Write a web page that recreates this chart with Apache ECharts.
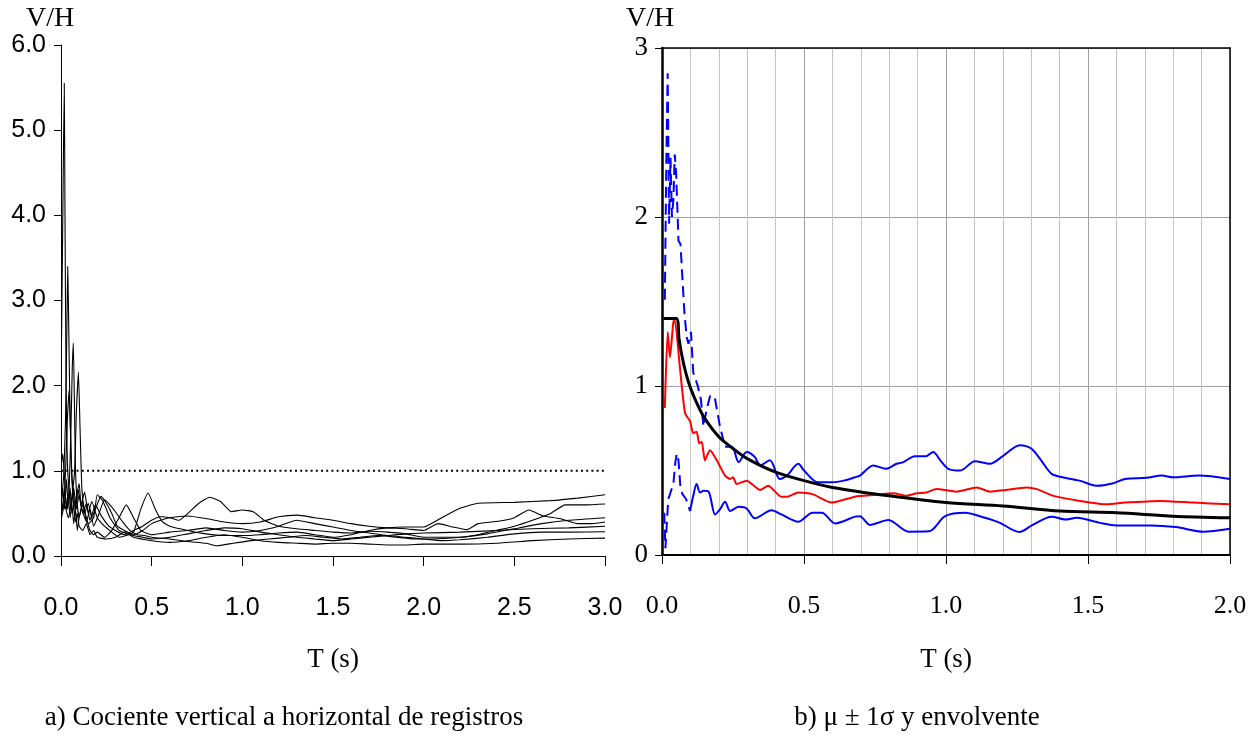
<!DOCTYPE html>
<html><head><meta charset="utf-8">
<script src="https://cdn.jsdelivr.net/npm/echarts@6/dist/echarts.min.js"></script>
<style>html,body{margin:0;padding:0;background:#fff}#c{width:1258px;height:735px}</style>
</head><body><div id="c"></div>
<script>
// ---------- Left panel: V/H ratio of each record, [T (s), V/H] ----------
const recA = [[0.003,2.55],[0.010,4.0],[0.018,5.55],[0.022,4.0],[0.028,2.0],[0.035,1.1],[0.045,0.75],[0.055,0.55],[0.07,0.8],[0.085,0.55],[0.1,0.72],[0.12,0.5],[0.14,0.62],[0.16,0.42],[0.19,0.6],[0.22,0.48],[0.26,0.36],[0.3,0.3],[0.35,0.25],[0.4,0.3],[0.45,0.35],[0.5,0.42],[0.55,0.46],[0.6,0.45],[0.65,0.42],[0.7,0.5],[0.76,0.62],[0.82,0.69],[0.88,0.64],[0.94,0.52],[1.0,0.54],[1.06,0.52],[1.12,0.42],[1.2,0.35],[1.3,0.32],[1.4,0.3],[1.5,0.28],[1.6,0.27],[1.7,0.29],[1.8,0.28],[1.9,0.26],[2.0,0.22],[2.1,0.22],[2.2,0.22],[2.3,0.25],[2.4,0.3],[2.5,0.35],[2.6,0.42],[2.7,0.5],[2.78,0.6],[2.9,0.6],[3.0,0.61]];
const recB = [[0.003,0.65],[0.015,0.95],[0.025,1.6],[0.032,2.6],[0.037,3.4],[0.042,2.8],[0.048,1.9],[0.055,1.2],[0.065,0.8],[0.08,0.55],[0.095,0.78],[0.11,0.6],[0.13,0.75],[0.15,0.5],[0.17,0.64],[0.2,0.45],[0.24,0.35],[0.28,0.28],[0.32,0.22],[0.36,0.24],[0.4,0.28],[0.44,0.55],[0.48,0.74],[0.52,0.55],[0.56,0.4],[0.6,0.35],[0.7,0.3],[0.8,0.26],[0.9,0.24],[1.0,0.24],[1.1,0.25],[1.2,0.27],[1.3,0.28],[1.4,0.25],[1.5,0.22],[1.6,0.25],[1.7,0.3],[1.8,0.33],[1.9,0.34],[2.0,0.34],[2.1,0.45],[2.2,0.56],[2.3,0.62],[2.5,0.63],[2.7,0.65],[2.85,0.68],[3.0,0.72]];
const recC = [[0.003,0.5],[0.02,0.75],[0.035,0.55],[0.045,0.8],[0.055,1.5],[0.062,2.2],[0.068,2.5],[0.074,1.8],[0.08,1.0],[0.09,0.6],[0.1,0.45],[0.12,0.65],[0.14,0.4],[0.16,0.55],[0.18,0.35],[0.21,0.5],[0.24,0.66],[0.27,0.6],[0.3,0.52],[0.34,0.4],[0.38,0.3],[0.42,0.25],[0.46,0.24],[0.5,0.22],[0.6,0.2],[0.7,0.17],[0.8,0.15],[0.86,0.12],[0.95,0.15],[1.05,0.18],[1.15,0.2],[1.25,0.22],[1.35,0.24],[1.45,0.22],[1.55,0.2],[1.65,0.22],[1.75,0.24],[1.85,0.22],[1.95,0.2],[2.05,0.2],[2.2,0.22],[2.35,0.26],[2.5,0.32],[2.65,0.38],[2.8,0.42],[3.0,0.45]];
const recD = [[0.003,0.45],[0.02,0.6],[0.04,0.45],[0.06,0.7],[0.075,1.0],[0.085,1.7],[0.096,2.16],[0.105,1.5],[0.115,0.8],[0.13,0.5],[0.15,0.62],[0.17,0.45],[0.19,0.55],[0.22,0.7],[0.25,0.62],[0.28,0.5],[0.31,0.35],[0.35,0.3],[0.4,0.25],[0.45,0.3],[0.5,0.38],[0.55,0.42],[0.6,0.45],[0.7,0.47],[0.8,0.44],[0.9,0.4],[1.0,0.38],[1.1,0.4],[1.2,0.46],[1.3,0.48],[1.4,0.45],[1.5,0.42],[1.6,0.38],[1.7,0.35],[1.8,0.33],[1.9,0.32],[2.0,0.3],[2.08,0.38],[2.16,0.34],[2.24,0.31],[2.3,0.38],[2.42,0.41],[2.5,0.45],[2.58,0.54],[2.66,0.47],[2.75,0.44],[2.85,0.38],[2.93,0.38],[3.0,0.40]];
const recE = [[0.003,1.09],[0.01,1.2],[0.02,0.9],[0.03,0.55],[0.04,0.7],[0.05,0.45],[0.06,0.62],[0.07,0.38],[0.08,0.55],[0.09,0.3],[0.1,0.45],[0.12,0.6],[0.14,0.45],[0.16,0.3],[0.18,0.25],[0.2,0.28],[0.24,0.22],[0.28,0.3],[0.32,0.45],[0.36,0.6],[0.4,0.45],[0.44,0.3],[0.5,0.25],[0.6,0.28],[0.7,0.3],[0.8,0.33],[0.9,0.3],[1.0,0.28],[1.1,0.3],[1.2,0.35],[1.3,0.42],[1.4,0.38],[1.5,0.34],[1.6,0.3],[1.7,0.27],[1.8,0.24],[1.9,0.22],[2.0,0.2],[2.1,0.18],[2.2,0.19],[2.35,0.22],[2.5,0.26],[2.65,0.28],[2.8,0.28],[3.0,0.285]];
const recF = [[0.003,0.52],[0.015,0.6],[0.025,1.0],[0.035,1.6],[0.045,1.95],[0.052,1.5],[0.06,0.9],[0.07,0.6],[0.08,0.4],[0.09,0.5],[0.1,0.35],[0.12,0.3],[0.14,0.38],[0.16,0.25],[0.18,0.3],[0.2,0.22],[0.25,0.2],[0.3,0.22],[0.35,0.28],[0.4,0.22],[0.5,0.18],[0.6,0.16],[0.7,0.18],[0.8,0.22],[0.9,0.25],[1.0,0.22],[1.1,0.18],[1.2,0.16],[1.3,0.15],[1.4,0.14],[1.5,0.15],[1.6,0.15],[1.7,0.14],[1.8,0.13],[1.9,0.13],[2.0,0.14],[2.2,0.14],[2.4,0.15],[2.6,0.18],[2.8,0.2],[3.0,0.21]];
const recG = [[0.003,0.66],[0.01,0.8],[0.02,0.55],[0.03,0.9],[0.04,0.6],[0.05,0.8],[0.06,0.5],[0.08,0.65],[0.1,0.85],[0.11,0.6],[0.13,0.45],[0.15,0.38],[0.18,0.45],[0.2,0.72],[0.23,0.65],[0.27,0.45],[0.32,0.3],[0.38,0.25],[0.45,0.22],[0.5,0.2],[0.6,0.22],[0.7,0.26],[0.8,0.3],[0.9,0.33],[1.0,0.32],[1.1,0.28],[1.2,0.25],[1.3,0.22],[1.4,0.2],[1.5,0.18],[1.6,0.2],[1.7,0.22],[1.8,0.24],[1.9,0.26],[2.0,0.27],[2.2,0.28],[2.4,0.3],[2.6,0.32],[2.8,0.33],[3.0,0.35]];
const unityLine = [[0,1],[3,1]];

// ---------- Right panel: mean ± 1 sigma and envelope ----------
const envT = [0.005,0.05,0.06,0.07,0.085,0.1,0.125,0.15,0.2,0.25,0.3,0.4,0.5,0.6,0.8,1.0,1.2,1.4,1.6,1.8,2.0];
const envV = [1.40,1.40,1.28,1.18,1.07,0.99,0.89,0.81,0.70,0.63,0.57,0.49,0.44,0.40,0.35,0.31,0.29,0.26,0.25,0.23,0.22];
const meanData = [[0.01,0.87],[0.02,1.32],[0.028,1.17],[0.04,1.38],[0.045,1.39],[0.063,1.11],[0.081,0.84],[0.099,0.79],[0.11,0.72],[0.122,0.73],[0.131,0.66],[0.14,0.67],[0.151,0.56],[0.169,0.62],[0.193,0.56],[0.222,0.47],[0.24,0.45],[0.25,0.46],[0.263,0.42],[0.298,0.44],[0.345,0.385],[0.374,0.41],[0.42,0.345],[0.44,0.345],[0.48,0.37],[0.53,0.36],[0.597,0.31],[0.68,0.345],[0.744,0.355],[0.815,0.365],[0.86,0.35],[0.897,0.365],[0.93,0.37],[0.967,0.39],[1.037,0.375],[1.108,0.40],[1.155,0.375],[1.21,0.385],[1.284,0.40],[1.32,0.39],[1.378,0.35],[1.472,0.32],[1.566,0.30],[1.63,0.31],[1.754,0.32],[1.87,0.31],[2.0,0.30]];
const upperDash = [[0.01,1.51],[0.015,2.3],[0.02,2.85],[0.025,1.96],[0.03,2.35],[0.035,2.0],[0.04,2.1],[0.045,2.37],[0.05,2.25],[0.058,1.86],[0.065,1.84],[0.079,1.43],[0.087,1.29],[0.093,1.25],[0.102,1.32],[0.11,1.08],[0.126,1.0],[0.137,0.92],[0.146,0.76],[0.157,0.86],[0.169,0.94],[0.185,0.94],[0.204,0.76],[0.222,0.64]];
const upperSolid = [[0.222,0.64],[0.246,0.64],[0.27,0.55],[0.298,0.61],[0.327,0.58],[0.345,0.53],[0.38,0.56],[0.415,0.45],[0.44,0.47],[0.48,0.54],[0.50,0.50],[0.55,0.43],[0.60,0.43],[0.64,0.44],[0.68,0.46],[0.697,0.47],[0.744,0.53],[0.79,0.51],[0.826,0.54],[0.85,0.55],[0.89,0.585],[0.93,0.585],[0.955,0.61],[0.98,0.56],[1.008,0.51],[1.05,0.50],[1.102,0.555],[1.155,0.54],[1.20,0.585],[1.26,0.65],[1.30,0.63],[1.335,0.56],[1.372,0.48],[1.41,0.46],[1.47,0.44],[1.53,0.41],[1.59,0.425],[1.63,0.45],[1.706,0.457],[1.76,0.47],[1.80,0.46],[1.89,0.47],[2.0,0.45]];
const lowerDash = [[0.008,0.25],[0.012,0.04],[0.016,0.05],[0.022,0.33],[0.03,0.37],[0.04,0.42],[0.047,0.55],[0.052,0.60],[0.058,0.56],[0.065,0.40],[0.072,0.36],[0.085,0.33],[0.099,0.26]];
const lowerSolid = [[0.099,0.26],[0.11,0.35],[0.122,0.42],[0.134,0.37],[0.146,0.38],[0.164,0.375],[0.187,0.24],[0.204,0.27],[0.222,0.315],[0.24,0.26],[0.27,0.285],[0.298,0.275],[0.327,0.217],[0.386,0.265],[0.42,0.24],[0.48,0.197],[0.53,0.25],[0.563,0.25],[0.61,0.187],[0.68,0.227],[0.697,0.23],[0.732,0.178],[0.797,0.207],[0.868,0.138],[0.94,0.14],[0.997,0.23],[1.067,0.25],[1.137,0.22],[1.19,0.19],[1.258,0.136],[1.305,0.178],[1.372,0.227],[1.42,0.21],[1.46,0.22],[1.542,0.19],[1.60,0.175],[1.72,0.175],[1.81,0.165],[1.906,0.138],[2.0,0.155]];

// ---------- Texts ----------
const yTitle = 'V/H';
const xTitle = 'T (s)';
const captionA = 'a) Cociente vertical a horizontal de registros';
const captionB = 'b) \u03bc \u00b1 1\u03c3 y envolvente';

const SERIF = "'Liberation Serif','Times New Roman',serif";
const SANS = "'Liberation Sans Narrow','Arial Narrow','Liberation Sans',Arial,sans-serif";

const chart = echarts.init(document.getElementById('c'), null, {renderer: 'canvas'});

const leftRecs = [recA, recB, recC, recD, recE, recF, recG];
const series = [];
leftRecs.forEach((r, i) => series.push({
  name: 'rec' + (i + 1), type: 'line', xAxisIndex: 0, yAxisIndex: 0, data: r,
  symbol: 'none', smooth: 0.15, lineStyle: {color: '#000', width: 1.1}, silent: true, z: 3
}));
series.push({
  name: 'unity', type: 'line', xAxisIndex: 0, yAxisIndex: 0, data: unityLine, symbol: 'none',
  lineStyle: {color: '#000', width: 2, type: [2, 3.2]}, silent: true, z: 4
});
const blue = '#0000ff';
series.push({type: 'line', xAxisIndex: 1, yAxisIndex: 1, data: upperDash, symbol: 'none', lineStyle: {color: blue, width: 2, type: [11, 6]}, silent: true, z: 3});
series.push({type: 'line', xAxisIndex: 1, yAxisIndex: 1, data: upperSolid, symbol: 'none', smooth: 0.3, lineStyle: {color: blue, width: 2}, silent: true, z: 3});
series.push({type: 'line', xAxisIndex: 1, yAxisIndex: 1, data: lowerDash, symbol: 'none', lineStyle: {color: blue, width: 2, type: [11, 6]}, silent: true, z: 3});
series.push({type: 'line', xAxisIndex: 1, yAxisIndex: 1, data: lowerSolid, symbol: 'none', smooth: 0.3, lineStyle: {color: blue, width: 2}, silent: true, z: 3});
series.push({type: 'line', xAxisIndex: 1, yAxisIndex: 1, data: meanData, symbol: 'none', smooth: 0.2, lineStyle: {color: '#ff0000', width: 2}, silent: true, z: 4});
series.push({type: 'line', xAxisIndex: 1, yAxisIndex: 1, data: envT.map((t, i) => [t, envV[i]]), symbol: 'none', smooth: 0.3, lineStyle: {color: '#000', width: 3}, silent: true, z: 5});

const fmt1 = v => v.toFixed(1);

const txt = (text, x, y, size, align) => ({
  type: 'text', x: x, y: y, silent: true,
  style: {text: text, fontSize: size, fontFamily: SERIF, fill: '#000',
    textAlign: align, align: align, textVerticalAlign: 'middle', verticalAlign: 'middle'}
});

chart.setOption({
  animation: false,
  backgroundColor: '#fff',
  grid: [
    {left: 61, top: 45, width: 544, height: 511, outerBoundsMode: 'none', containLabel: false},
    {left: 662, top: 48, width: 568, height: 507, outerBoundsMode: 'none', containLabel: false}
  ],
  xAxis: [
    {gridIndex: 0, type: 'value', min: 0, max: 3, interval: 0.5,
      axisLine: {show: true, onZero: false, lineStyle: {color: '#000', width: 1}},
      axisTick: {show: true, length: 10, lineStyle: {color: '#000'}},
      axisLabel: {show: true, margin: 40, formatter: fmt1, fontSize: 25, fontFamily: SANS, color: '#000', showMinLabel: true, showMaxLabel: true, hideOverlap: false},
      splitLine: {show: false}},
    {gridIndex: 1, type: 'value', min: 0, max: 2, interval: 0.5,
      axisLine: {show: true, onZero: false, lineStyle: {color: '#000', width: 2}},
      axisTick: {show: true, length: 9, lineStyle: {color: '#000', width: 1}},
      axisLabel: {show: true, margin: 38, formatter: fmt1, fontSize: 26, fontFamily: SERIF, color: '#000', showMinLabel: true, showMaxLabel: true, hideOverlap: false},
      splitLine: {show: true, lineStyle: {color: '#a0a0a0', width: 1}},
      minorTick: {show: false, splitNumber: 5},
      minorSplitLine: {show: true, lineStyle: {color: '#c4c4c4', width: 1}}},
    {gridIndex: 1, type: 'value', min: 0, max: 2, position: 'top',
      axisLine: {show: true, onZero: false, lineStyle: {color: '#000', width: 1.5}},
      axisTick: {show: false}, axisLabel: {show: false}, splitLine: {show: false}}
  ],
  yAxis: [
    {gridIndex: 0, type: 'value', min: 0, max: 6, interval: 1,
      axisLine: {show: true, onZero: false, lineStyle: {color: '#000', width: 1}},
      axisTick: {show: true, length: 7, lineStyle: {color: '#000'}},
      axisLabel: {show: true, margin: 15, formatter: fmt1, fontSize: 25, fontFamily: SANS, color: '#000', showMinLabel: true, showMaxLabel: true, hideOverlap: false},
      splitLine: {show: false}},
    {gridIndex: 1, type: 'value', min: 0, max: 3, interval: 1,
      axisLine: {show: true, onZero: false, lineStyle: {color: '#000', width: 2.5}},
      axisTick: {show: true, length: 7, lineStyle: {color: '#000'}},
      axisLabel: {show: true, margin: 14, fontSize: 27, fontFamily: SERIF, color: '#000', showMinLabel: true, showMaxLabel: true, hideOverlap: false},
      splitLine: {show: true, lineStyle: {color: '#a0a0a0', width: 1}}},
    {gridIndex: 1, type: 'value', min: 0, max: 3, position: 'right',
      axisLine: {show: true, onZero: false, lineStyle: {color: '#000', width: 1.5}},
      axisTick: {show: false}, axisLabel: {show: false}, splitLine: {show: false}}
  ],
  series: series,
  graphic: [
    txt(yTitle, 26, 19, 28, 'left'),
    txt(yTitle, 626, 19, 28, 'left'),
    txt(xTitle, 333, 660, 27, 'center'),
    txt(xTitle, 946, 660, 27, 'center'),
    txt(captionA, 284, 718, 27, 'center'),
    txt(captionB, 917, 718, 27, 'center')
  ]
});
</script></body></html>
